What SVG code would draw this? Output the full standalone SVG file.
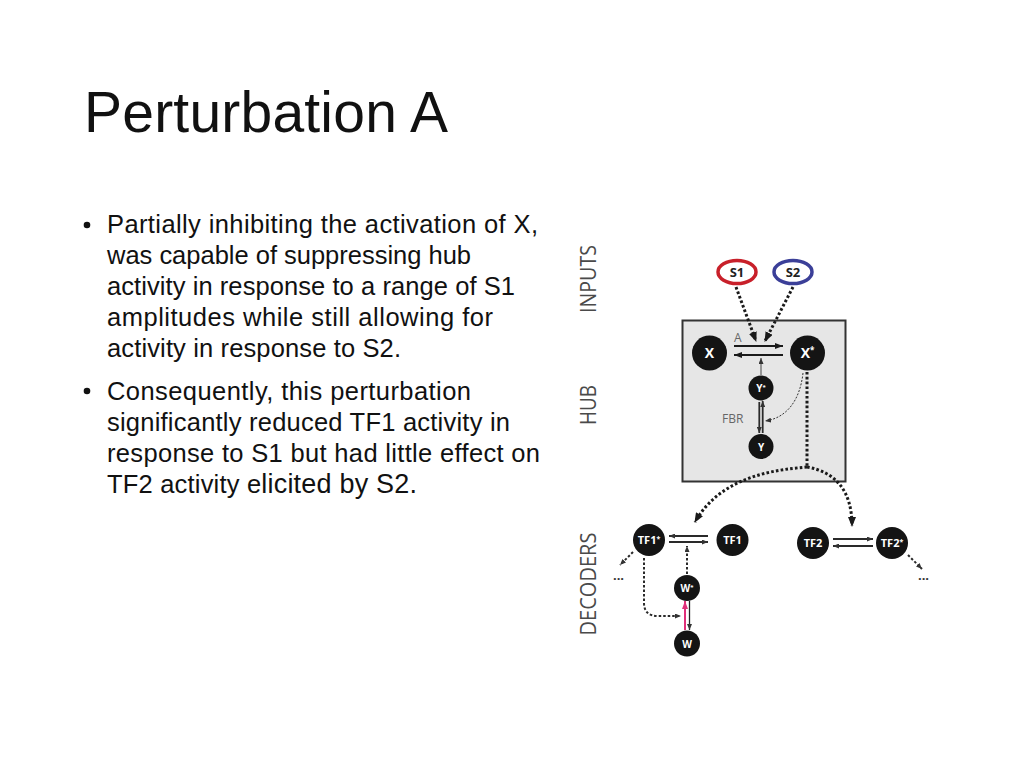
<svg xmlns="http://www.w3.org/2000/svg" width="1024" height="768" viewBox="0 0 1024 768">
  <style>
    .title { font-family: "Liberation Sans", Arial, sans-serif; font-size: 57px; fill: #111; }
    .body { font-family: "Liberation Sans", Arial, sans-serif; font-size: 25.5px; fill: #111; }
    .side { font-family: "Open Sans", "DejaVu Sans", sans-serif; font-size: 22px; fill: #4a4a4a; }
    .node circle { fill: #141414; }
    .nt { font-family: "Open Sans", "DejaVu Sans", sans-serif; font-weight: bold; fill: #fff; text-anchor: middle; }
    .lbl { font-family: "Open Sans", "DejaVu Sans", sans-serif; fill: #666; font-size: 12px; }
    .dot { fill: none; stroke: #1a1a1a; stroke-width: 3; stroke-dasharray: 2.6 2.2; }
    .dot2 { fill: none; stroke: #2a2a2a; stroke-width: 2; stroke-dasharray: 2.5 2; }
    .thin { fill: none; stroke: #333; stroke-width: 1; stroke-dasharray: 2 1.5; }
    .solid { fill: none; stroke: #1a1a1a; stroke-width: 2; }
    .solid1 { fill: none; stroke: #2a2a2a; stroke-width: 1.8; }
  </style>
  <defs>
    <marker id="ahD" markerUnits="userSpaceOnUse" markerWidth="10" markerHeight="8" refX="9" refY="4" orient="auto">
      <path d="M0,0 L10,4 L0,8 z" fill="#1a1a1a"/>
    </marker>
    <marker id="ahS" markerUnits="userSpaceOnUse" markerWidth="8" markerHeight="6" refX="8" refY="3" orient="auto">
      <path d="M0,0 L8,3 L0,6 z" fill="#1a1a1a"/>
    </marker>
    <marker id="ahT" markerUnits="userSpaceOnUse" markerWidth="6" markerHeight="5" refX="6" refY="2.5" orient="auto">
      <path d="M0,0 L6,2.5 L0,5 z" fill="#333"/>
    </marker>
    <marker id="ahP" markerUnits="userSpaceOnUse" markerWidth="8" markerHeight="6" refX="8" refY="3" orient="auto">
      <path d="M0,0 L8,3 L0,6 z" fill="#e0307a"/>
    </marker>
  </defs>

  <rect x="0" y="0" width="1024" height="768" fill="#fff"/>

  <text class="title" x="84" y="132" textLength="364">Perturbation A</text>

  <g id="bullets">
    <circle cx="87" cy="225" r="3.3" fill="#111"/>
    <text class="body" x="107" y="233" textLength="431">Partially inhibiting the activation of X,</text>
    <text class="body" x="107" y="264" textLength="364">was capable of suppressing hub</text>
    <text class="body" x="107" y="294.5" textLength="408">activity in response to a range of S1</text>
    <text class="body" x="107" y="325.5" textLength="386">amplitudes while still allowing for</text>
    <text class="body" x="107" y="356.5" textLength="294">activity in response to S2.</text>
    <circle cx="87" cy="391" r="3.3" fill="#111"/>
    <text class="body" x="107" y="399.5" textLength="364">Consequently, this perturbation</text>
    <text class="body" x="107" y="430.5" textLength="403">significantly reduced TF1 activity in</text>
    <text class="body" x="107" y="461.5" textLength="433">response to S1 but had little effect on</text>
    <text class="body" x="107" y="492.5" textLength="310">TF2 activity e<tspan font-size="27">licited by S2.</tspan></text>
  </g>

  <g id="side-labels">
    <text class="side" transform="translate(596,279) rotate(-90)" text-anchor="middle" textLength="68" lengthAdjust="spacingAndGlyphs">INPUTS</text>
    <text class="side" transform="translate(596,405) rotate(-90)" text-anchor="middle" textLength="40" lengthAdjust="spacingAndGlyphs">HUB</text>
    <text class="side" transform="translate(596,584) rotate(-90)" text-anchor="middle" textLength="103" lengthAdjust="spacingAndGlyphs">DECODERS</text>
  </g>

  <g id="hub-box">
    <rect x="682.5" y="320.5" width="163" height="161" fill="#e6e6e6" stroke="#333" stroke-width="2"/>
  </g>

  <g id="connectors">
    <path class="dot" d="M736,287 L756,341" marker-end="url(#ahD)"/>
    <path class="dot" d="M793,287 L765,341" marker-end="url(#ahD)"/>
    <path class="solid" d="M734,346 L783,346" marker-end="url(#ahS)"/>
    <path class="solid" d="M783,355 L734,355" marker-end="url(#ahS)"/>
    <path fill="none" stroke="#444" stroke-width="1" d="M761,375 L761,358" marker-end="url(#ahT)"/>
    <path class="solid1" d="M759.3,402 L759.3,433" marker-end="url(#ahT)"/>
    <path class="solid1" d="M762.7,433 L762.7,401" marker-end="url(#ahT)"/>
    <path class="thin" d="M803,373 C800,400 787,418 765,421" marker-end="url(#ahT)"/>
    <path class="dot" d="M807,372 L807,467"/>
    <path class="dot" d="M807,467 C770,470 720,478 695,522" marker-end="url(#ahD)"/>
    <path class="dot" d="M807,467 C835,472 852,490 852,526" marker-end="url(#ahD)"/>
    <path class="solid1" d="M708,536 L669,536" marker-end="url(#ahT)"/>
    <path class="solid1" d="M669,542 L708,542" marker-end="url(#ahT)"/>
    <path class="solid1" d="M833,539 L873,539" marker-end="url(#ahT)"/>
    <path class="solid1" d="M873,546 L833,546" marker-end="url(#ahT)"/>
    <path class="dot2" d="M633,552 L620,565" marker-end="url(#ahT)"/>
    <path class="dot2" d="M908,555 L922,569" marker-end="url(#ahT)"/>
    <path class="dot2" d="M687,574 L687,546" marker-end="url(#ahT)"/>
    <path class="dot2" d="M644,558 L644,603 Q644,616 658,616 L681,616" marker-end="url(#ahT)"/>
    <path fill="none" stroke="#e0307a" stroke-width="2" d="M685,630 L685,601" marker-end="url(#ahP)"/>
    <path fill="none" stroke="#222" stroke-width="1.3" d="M689.5,601 L689.5,630" marker-end="url(#ahT)"/>
  </g>

  <g id="S1">
    <ellipse cx="737" cy="272" rx="19" ry="11.5" fill="#fff" stroke="#c8202a" stroke-width="3.5"/>
    <text x="737" y="277" font-family="Open Sans, DejaVu Sans, sans-serif" font-weight="bold" font-size="13" fill="#222" text-anchor="middle">S1</text>
  </g>
  <g id="S2">
    <ellipse cx="793" cy="272" rx="19" ry="11.5" fill="#fff" stroke="#3b3f98" stroke-width="3.5"/>
    <text x="793" y="277" font-family="Open Sans, DejaVu Sans, sans-serif" font-weight="bold" font-size="13" fill="#222" text-anchor="middle">S2</text>
  </g>

  <g id="label-A"><text class="lbl" x="734" y="342">A</text></g>
  <g id="label-FBR"><text class="lbl" x="722" y="423">FBR</text></g>

  <g id="X" class="node"><circle cx="709.5" cy="353" r="17.5"/><text class="nt" x="709.5" y="358" font-size="14">X</text></g>
  <g id="Xstar" class="node"><circle cx="807.5" cy="353" r="17.5"/><text class="nt" x="807.5" y="358" font-size="14">X<tspan font-size="8" dy="-5">*</tspan></text></g>
  <g id="Ystar" class="node"><circle cx="761" cy="388" r="12.5"/><text class="nt" x="761" y="392" font-size="10">Y<tspan font-size="6" dy="-3">*</tspan></text></g>
  <g id="Y" class="node"><circle cx="761" cy="446.5" r="12.5"/><text class="nt" x="761" y="450.5" font-size="10">Y</text></g>

  <g id="TF1star" class="node"><circle cx="649" cy="540" r="16"/><text class="nt" x="649" y="544" font-size="11">TF1<tspan font-size="7" dy="-3">*</tspan></text></g>
  <g id="TF1" class="node"><circle cx="732.5" cy="540" r="16"/><text class="nt" x="732.5" y="544" font-size="11">TF1</text></g>
  <g id="TF2" class="node"><circle cx="813" cy="543" r="16"/><text class="nt" x="813" y="547" font-size="11">TF2</text></g>
  <g id="TF2star" class="node"><circle cx="892" cy="543" r="16"/><text class="nt" x="892" y="547" font-size="11">TF2<tspan font-size="7" dy="-3">*</tspan></text></g>
  <g id="Wstar" class="node"><circle cx="687" cy="588" r="13"/><text class="nt" x="687" y="592" font-size="10">W<tspan font-size="6" dy="-3">*</tspan></text></g>
  <g id="W" class="node"><circle cx="687" cy="643.5" r="13"/><text class="nt" x="687" y="647.5" font-size="10">W</text></g>

  <g id="ellipsis-left"><text x="618.5" y="580" font-family="Open Sans, DejaVu Sans, sans-serif" font-weight="bold" font-size="13" fill="#333" text-anchor="middle">...</text></g>
  <g id="ellipsis-right"><text x="923.5" y="580" font-family="Open Sans, DejaVu Sans, sans-serif" font-weight="bold" font-size="13" fill="#333" text-anchor="middle">...</text></g>
</svg>
